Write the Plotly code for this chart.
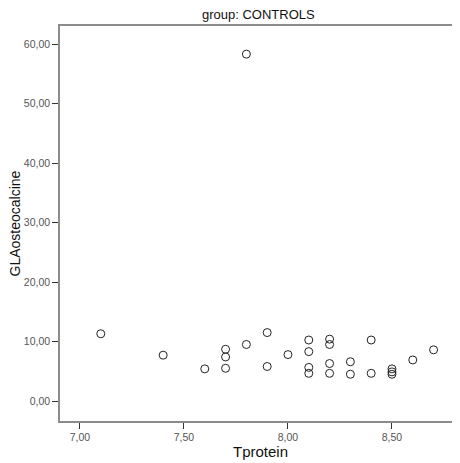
import plotly.graph_objects as go

# Tprotein vs GLAosteocalcine, group CONTROLS
tprotein = [7.10, 7.40, 7.60, 7.70, 7.70, 7.70, 7.80, 7.80,
            7.90, 7.90, 8.00, 8.10, 8.10, 8.10, 8.10,
            8.20, 8.20, 8.20, 8.20, 8.30, 8.30, 8.40, 8.40,
            8.50, 8.50, 8.50, 8.60, 8.70]
gla = [11.3, 7.7, 5.4, 8.7, 7.4, 5.5, 9.5, 58.3,
       11.5, 5.8, 7.8, 10.25, 8.3, 5.65, 4.65,
       10.4, 9.5, 6.3, 4.65, 6.6, 4.5, 10.25, 4.65,
       5.4, 4.9, 4.5, 6.9, 8.6]

x_ticks = [7.0, 7.5, 8.0, 8.5]
y_ticks = [0, 10, 20, 30, 40, 50, 60]

font_name = "Liberation Sans, Arial"

fig = go.Figure()
fig.add_trace(go.Scatter(
    x=tprotein, y=gla,
    mode="markers",
    marker=dict(symbol="circle-open", size=8, color="#222222",
                line=dict(width=1, color="#222222")),
    showlegend=False,
))

axis_common = dict(
    showgrid=False, zeroline=False, automargin=False,
    showline=True, linecolor="#8c8c8c", linewidth=1.5,
    ticks="outside", ticklen=6, tickcolor="#333333", tickwidth=1,
    tickfont=dict(family=font_name, size=10.5, color="#555555"),
    tickformat=".2f",
)

# the page body adds an 8px offset, so the figure is 8px smaller than the window
fig.update_layout(
    width=452, height=455,
    margin=dict(l=52, r=0, t=18, b=42),
    paper_bgcolor="white", plot_bgcolor="white",
    separators=",.",
    xaxis=dict(axis_common, range=[6.904, 8.827], tickvals=x_ticks, mirror=True),
    yaxis=dict(axis_common, range=[-3.36, 63.03], tickvals=y_ticks),
    annotations=[
        dict(text="group: CONTROLS", x=0.495, y=1.0, xref="paper", yref="paper",
             showarrow=False, yanchor="bottom", yshift=2,
             font=dict(family=font_name, size=13, color="#111111")),
        dict(text="Tprotein", x=0.5, y=-0.076, xref="paper", yref="paper",
             showarrow=False, yanchor="middle",
             font=dict(family=font_name, size=15, color="#111111")),
        dict(text="GLAosteocalcine", x=-0.115, y=0.5, xref="paper", yref="paper",
             showarrow=False, textangle=-90, xanchor="center",
             font=dict(family=font_name, size=14, color="#111111")),
    ],
)

fig.write_html("out.html")
